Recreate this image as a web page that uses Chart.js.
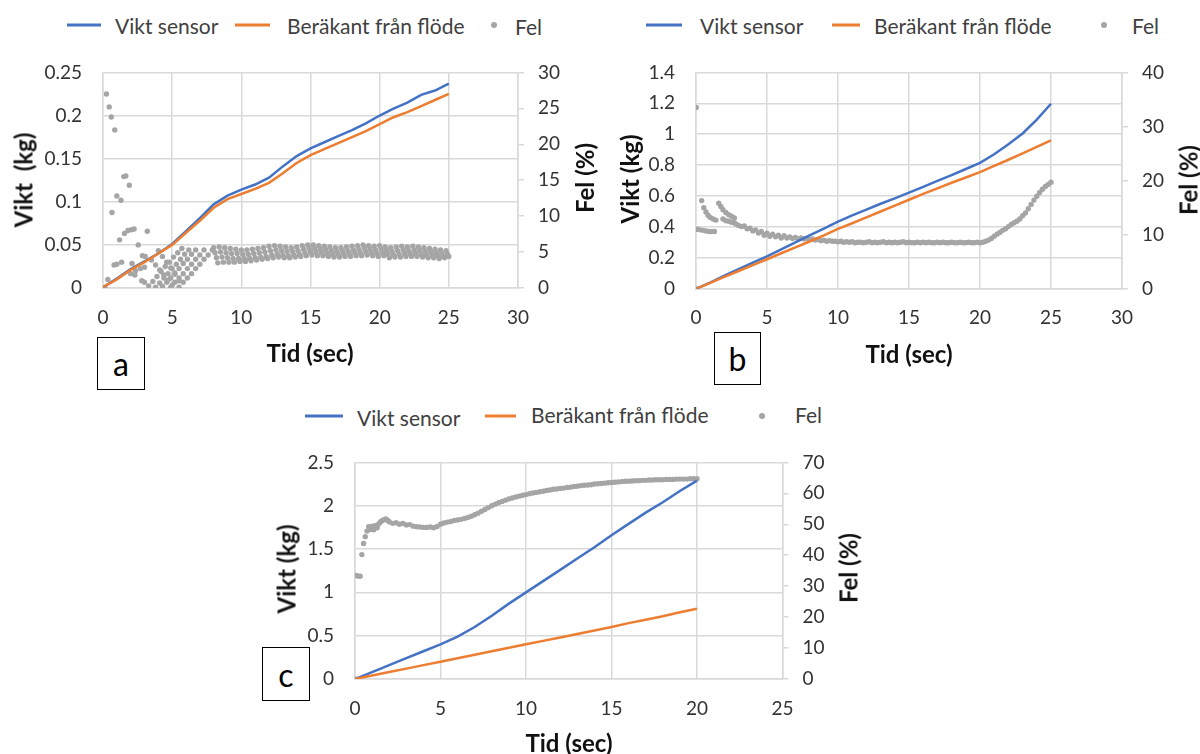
<!DOCTYPE html>
<html>
<head>
<meta charset="utf-8">
<script src="https://cdn.jsdelivr.net/npm/chart.js@4.4.1/dist/chart.umd.min.js"></script>
<style>
  body { margin: 0; background: #fff; }
  #page { position: relative; width: 1200px; height: 754px; overflow: hidden; font-family: Lato, "Open Sans", sans-serif; }
  canvas { position: absolute; }
  .lg { position: absolute; font-size: 21px; color: #404040; transform: translateY(-50%); white-space: nowrap; }
  .sw { position: absolute; height: 3px; transform: translateY(-50%); }
  .dot { position: absolute; width: 6px; height: 6px; border-radius: 50%; background: #a5a5a5; transform: translate(-50%, -50%); }
  .ttl { position: absolute; font-size: 24px; font-weight: bold; color: #111; white-space: pre; transform: translate(-50%, -50%); }
  .ttl.rot { transform: translate(-50%, -50%) rotate(-90deg); }
  .tag { position: absolute; border: 1.5px solid #000; box-sizing: border-box; font-size: 32px; color: #000;
         display: flex; align-items: center; justify-content: center; background: #fff; }
</style>
</head>
<body>
<div id="page">
  <canvas id="chartA" width="600" height="300" style="left:0;top:40px"></canvas>
  <canvas id="chartB" width="600" height="300" style="left:600px;top:40px"></canvas>
  <canvas id="chartC" width="600" height="324" style="left:250px;top:430px"></canvas>

  <!-- legend a -->
  <div class="sw" style="left:67px;top:25px;width:34px;background:#4472c4"></div>
  <div class="lg" style="left:115px;top:25px">Vikt sensor</div>
  <div class="sw" style="left:235px;top:25px;width:35px;background:#ed7d31"></div>
  <div class="lg" style="left:287px;top:25px">Beräkant från flöde</div>
  <div class="dot" style="left:494px;top:25px"></div>
  <div class="lg" style="left:515px;top:26px">Fel</div>

  <!-- legend b -->
  <div class="sw" style="left:646px;top:25px;width:36px;background:#4472c4"></div>
  <div class="lg" style="left:700px;top:25px">Vikt sensor</div>
  <div class="sw" style="left:832px;top:25px;width:28px;background:#ed7d31"></div>
  <div class="lg" style="left:874px;top:25px">Beräkant från flöde</div>
  <div class="dot" style="left:1104px;top:25px"></div>
  <div class="lg" style="left:1132px;top:25px">Fel</div>

  <!-- legend c -->
  <div class="sw" style="left:305px;top:416px;width:38px;background:#4472c4"></div>
  <div class="lg" style="left:357px;top:417px">Vikt sensor</div>
  <div class="sw" style="left:485px;top:416px;width:31px;background:#ed7d31"></div>
  <div class="lg" style="left:531px;top:414px">Beräkant från flöde</div>
  <div class="dot" style="left:762px;top:416px"></div>
  <div class="lg" style="left:795px;top:414px">Fel</div>

  <!-- axis titles -->
  <div class="ttl rot" style="left:23px;top:180px">Vikt  (kg)</div>
  <div class="ttl rot" style="left:584px;top:178px">Fel (%)</div>
  <div class="ttl" style="left:310px;top:352px">Tid (sec)</div>

  <div class="ttl rot" style="left:629px;top:179px">Vikt (kg)</div>
  <div class="ttl rot" style="left:1188px;top:180px">Fel (%)</div>
  <div class="ttl" style="left:909px;top:353px">Tid (sec)</div>

  <div class="ttl rot" style="left:286px;top:569px">Vikt (kg)</div>
  <div class="ttl rot" style="left:848px;top:568px">Fel (%)</div>
  <div class="ttl" style="left:569px;top:742px">Tid (sec)</div>

  <!-- panel tags -->
  <div class="tag" style="left:97px;top:337px;width:48px;height:53px">a</div>
  <div class="tag" style="left:714px;top:332px;width:47px;height:53px">b</div>
  <div class="tag" style="left:262px;top:647px;width:48px;height:54px">c</div>
</div>

<script>
/* ---------------- Data ---------------- */

// panel a
const tA = [0,1,2,3,4,5,6,7,8,9,10,11,12,13,14,15,16,17,18,19,20,21,22,23,24,25];
const viktA = [0.001,0.011,0.022,0.031,0.040,0.051,0.066,0.081,0.097,0.107,0.114,0.120,0.128,0.141,0.153,0.162,0.169,0.176,0.183,0.191,0.200,0.208,0.215,0.224,0.229,0.237];
const berA = [0.001,0.010,0.021,0.030,0.040,0.050,0.064,0.078,0.093,0.103,0.109,0.115,0.122,0.133,0.145,0.154,0.161,0.168,0.175,0.182,0.190,0.198,0.204,0.211,0.218,0.225];

const felA_earlyT = [0.05,0.15,0.25,0.35,0.45,0.6,0.65,0.8,0.85,1.0,1.0,1.2,1.3,1.35,1.5,1.55,1.65,1.8,1.9,2.0,2.05,2.1,2.25,2.3,2.35,2.55,2.7,2.8,2.85,3.0,3.0,3.05,3.2];
const felA_earlyV = [0,0,27.0,1.2,25.2,23.8,10.5,3.2,22.0,3.3,12.8,6.7,12.2,3.6,15.5,7.6,15.6,8.0,14.3,2.0,8.1,3.4,8.2,1.8,2.4,6.0,2.7,1.0,4.5,0.8,2.9,4.4,7.9];

const felA_hatchT = [3.3,3.6,3.9,4.2,4.5,4.8,5.1,5.4,5.7, 3.8,4.1,4.4,4.7,5.0,5.3,5.6,5.9,6.2,
  4.3,4.6,4.9,5.2,5.5,5.8,6.1,6.4,6.7, 4.9,5.2,5.5,5.8,6.1,6.4,6.7,7.0,7.3,
  5.5,5.8,6.1,6.4,6.7,7.0,7.3,7.6,7.9, 3.5,3.8,4.1,4.4,4.7,5.0, 4.0,4.3,4.6,4.9,5.2,5.5];
const felA_hatchV = [0.3,0.9,1.6,2.3,3.0,3.6,4.3,4.9,5.5, 0.1,0.7,1.4,2.0,2.7,3.3,4.0,4.7,5.3,
  0.2,0.8,1.4,2.1,2.7,3.4,4.0,4.7,5.3, 0.1,0.8,1.4,2.0,2.7,3.3,4.0,4.6,5.3,
  0.1,0.8,1.4,2.0,2.7,3.3,4.0,4.6,5.3, 3.9,3.2,2.5,1.8,1.1,0.4, 5.2,4.4,3.6,2.8,1.9,1.0];

// 8.0 s .. 25.0 s, one sample per 0.1 s
const felA_bandStart = 8.0, felA_bandStep = 0.1;
const felA_band = [
  5.6,4.9,4.2,3.5,5.7,5.0,4.3,3.6,5.6,4.9,
  4.2,3.6,5.5,4.8,4.1,3.6,5.4,4.8,4.1,3.7,
  5.3,4.7,4.1,3.7,5.3,4.7,4.1,3.8,5.4,4.8,
  4.2,3.9,5.5,4.9,4.3,4.0,5.6,5.0,4.4,4.1,
  5.8,5.2,4.6,4.2,5.9,5.3,4.7,4.3,5.8,5.2,
  4.6,4.2,5.7,5.1,4.5,4.2,5.6,5.1,4.6,4.3,
  5.7,5.2,4.7,4.4,5.9,5.4,4.9,4.5,6.0,5.5,
  5.0,4.6,6.0,5.5,5.0,4.5,5.9,5.4,4.9,4.5,
  5.8,5.3,4.8,4.4,5.7,5.2,4.7,4.3,5.6,5.1,
  4.7,4.3,5.6,5.2,4.7,4.4,5.7,5.2,4.8,4.4,
  5.8,5.3,4.9,4.5,5.9,5.4,4.9,4.5,6.0,5.5,
  5.0,4.6,5.9,5.4,4.9,4.5,5.8,5.3,4.8,4.4,
  5.9,5.4,4.9,4.5,5.7,5.2,4.7,4.2,5.6,5.1,
  4.6,4.3,5.7,5.2,4.7,4.3,5.8,5.3,4.8,4.4,
  5.7,5.2,4.8,4.4,5.8,5.3,4.8,4.4,5.7,5.2,
  4.7,4.3,5.6,5.1,4.6,4.2,5.5,5.0,4.6,4.2,
  5.4,4.9,4.5,4.1,5.3,4.8,4.4,4.2,5.2,4.7,
  4.4
];

const xTicksA = [0,5,10,15,20,25,30];
const yTicksA = [0,0.05,0.1,0.15,0.2,0.25];
const y2TicksA = [0,5,10,15,20,25,30];

// panel b
const tB = [0,1,2,3,4,5,6,7,8,9,10,11,12,13,14,15,16,17,18,19,20,21,22,23,24,25];
const viktB = [0,0.040,0.085,0.128,0.170,0.210,0.255,0.300,0.345,0.390,0.435,0.475,0.512,0.550,0.585,0.622,0.660,0.698,0.735,0.775,0.815,0.870,0.935,1.005,1.095,1.197];
const berB = [0,0.038,0.077,0.115,0.153,0.191,0.230,0.268,0.306,0.345,0.388,0.424,0.462,0.500,0.538,0.576,0.614,0.650,0.686,0.720,0.755,0.795,0.835,0.876,0.918,0.960];

const felB_earlyT = [0,0.02,0.1,0.3,0.5,0.7,0.9,1.1,1.3, 0.4,0.55,0.7,0.85,1.0,1.2,1.4,
  1.6,1.75,1.9,2.1,2.3,2.5,2.7, 1.9,2.1,2.3,2.5,2.7,2.8];
const felB_earlyV = [0,33.5,11.0,10.9,10.8,10.7,10.6,10.6,10.6, 16.3,15.0,14.2,13.6,13.2,12.9,12.7,
  15.8,15.2,14.6,14.1,13.7,13.4,13.1, 12.9,12.6,12.5,12.3,12.2,12.0];

// 3.0 s .. 25.0 s, one sample per 0.2 s
const felB_mainStart = 3.0, felB_mainStep = 0.2;
const felB_main = [
  11.7,11.5,11.6,11.1,11.2,10.7,10.9,10.3,10.6,9.9,
  10.3,9.7,10.1,9.6,9.9,9.4,9.8,9.4,9.6,9.3,
  9.5,9.2,9.4,9.2,9.3,9.1,9.2,9.0,9.1,8.9,
  9.0,8.8,8.9,8.8,8.8,8.7,8.8,8.6,8.7,8.6,
  8.7,8.5,8.6,8.6,8.5,8.6,8.7,8.5,8.6,8.5,
  8.6,8.7,8.5,8.6,8.5,8.6,8.5,8.6,8.7,8.5,
  8.6,8.5,8.5,8.6,8.5,8.6,8.5,8.6,8.5,8.5,
  8.6,8.5,8.6,8.5,8.5,8.6,8.5,8.5,8.6,8.5,
  8.5,8.6,8.5,8.5,8.6,8.5,8.6,8.8,9.0,9.3,
  9.7,10.1,10.4,10.8,11.1,11.5,11.9,12.2,12.5,12.9,
  13.5,14.0,14.8,15.6,16.4,17.1,17.8,18.4,18.9,19.3,
  19.7
];

const xTicksB = [0,5,10,15,20,25,30];
const yTicksB = [0,0.2,0.4,0.6,0.8,1,1.2,1.4];
const y2TicksB = [0,10,20,30,40];

// panel c
const tC = [0,1,2,3,4,5,6,7,8,9,10,11,12,13,14,15,16,17,18,19,20];
const viktC = [0,0.08,0.16,0.24,0.32,0.40,0.49,0.60,0.73,0.87,1.00,1.13,1.26,1.39,1.52,1.66,1.79,1.92,2.04,2.17,2.29];
const berC = [0,0.04,0.08,0.12,0.16,0.20,0.24,0.28,0.32,0.36,0.40,0.44,0.48,0.52,0.56,0.60,0.645,0.685,0.725,0.77,0.81];

const felC_earlyT = [0,0.05,0.15,0.3,0.4,0.5,0.6,0.7,0.8,0.9,1.0,1.1,1.2,1.3,1.4,1.5,1.6,1.7,1.8,1.9];
const felC_earlyV = [0,33.5,33.3,33.2,40.2,43.8,46.0,47.8,49.2,48.3,49.4,48.2,49.6,48.9,50.2,50.8,51.2,51.5,51.7,51.3];

// 2.0 s .. 20.0 s, one sample per 0.2 s
const felC_mainStart = 2.0, felC_mainStep = 0.2;
const felC_main = [
  50.8,50.3,50.5,50.0,50.3,49.8,49.9,49.4,49.2,49.1,
  49.0,49.0,49.1,48.9,49.3,50.0,50.4,50.7,50.9,51.2,
  51.4,51.6,51.9,52.2,52.6,53.1,53.6,54.2,54.8,55.4,
  56.0,56.5,57.0,57.4,57.8,58.2,58.5,58.8,59.1,59.4,
  59.6,59.9,60.1,60.3,60.5,60.7,60.9,61.1,61.3,61.4,
  61.6,61.7,61.9,62.0,62.2,62.3,62.5,62.6,62.7,62.8,
  63.0,63.1,63.2,63.3,63.4,63.5,63.6,63.7,63.8,63.9,
  63.9,64.0,64.1,64.1,64.2,64.2,64.3,64.3,64.4,64.4,
  64.4,64.5,64.5,64.5,64.6,64.6,64.6,64.6,64.7,64.7,
  64.7
];

const xTicksC = [0,5,10,15,20,25];
const yTicksC = [0,0.5,1,1.5,2,2.5];
const y2TicksC = [0,10,20,30,40,50,60,70];

/* ---------------- Helpers ---------------- */

const BLUE = "#4472c4";
const ORANGE = "#ed7d31";
const GRAY = "#a5a5a5";
const GRID = "#d9d9d9";
const INK = "#333333";

Chart.defaults.font.family = "Lato, 'Open Sans', sans-serif";

const xy = (t, v) => t.map((x, i) => ({ x, y: v[i] }));
const sampled = (t0, dt, v) => v.map((y, i) => ({ x: Math.round((t0 + i * dt) * 100) / 100, y }));

const tickFont = { size: 19 };

function setTicks(values) {
    return scale => {
        scale.ticks = values.map(value => ({ value }));
    };
}

/* ---------------- Create Chart ---------------- */

function drawPanel(id, panel) {

    new Chart(document.getElementById(id), {

        type: "line",

        data: {
            datasets: [
                {
                    label: "Vikt sensor",
                    data: panel.vikt,
                    yAxisID: "y",
                    borderColor: BLUE,
                    borderWidth: 2.5,
                    pointRadius: 0,
                    order: 1
                },
                {
                    label: "Beräkant från flöde",
                    data: panel.ber,
                    yAxisID: "y",
                    borderColor: ORANGE,
                    borderWidth: 2.5,
                    pointRadius: 0,
                    order: 0
                },
                {
                    label: "Fel",
                    data: panel.fel,
                    yAxisID: "y2",
                    showLine: false,
                    pointRadius: 2.7,
                    pointBorderWidth: 0,
                    pointBackgroundColor: GRAY,
                    order: 2
                }
            ]
        },

        options: {
            responsive: false,
            animation: false,
            events: [],
            layout: { padding: panel.pad },
            plugins: {
                legend: { display: false },
                tooltip: { enabled: false }
            },
            scales: {
                x: {
                    type: "linear",
                    min: 0,
                    max: panel.xTicks[panel.xTicks.length - 1],
                    afterBuildTicks: setTicks(panel.xTicks),
                    afterFit: scale => { scale.height = 40; },
                    grid: { color: GRID, lineWidth: 1.5, drawTicks: false },
                    border: { color: GRID, width: 1.5 },
                    ticks: { font: tickFont, color: INK, padding: 18, maxRotation: 0, autoSkip: false, callback: v => String(v) }
                },
                y: {
                    position: "left",
                    min: 0,
                    max: panel.yTicks[panel.yTicks.length - 1],
                    afterBuildTicks: setTicks(panel.yTicks),
                    afterFit: scale => { scale.width = 63; },
                    grid: { color: GRID, lineWidth: 1.5, drawTicks: false },
                    border: { color: GRID, width: 1.5 },
                    ticks: { font: tickFont, color: INK, padding: 21, callback: v => String(v) }
                },
                y2: {
                    position: "right",
                    min: 0,
                    max: panel.y2Ticks[panel.y2Ticks.length - 1],
                    afterBuildTicks: setTicks(panel.y2Ticks),
                    afterFit: scale => { scale.width = 60; },
                    grid: { drawOnChartArea: false, color: GRID, lineWidth: 1.5, tickLength: 6 },
                    border: { color: GRID, width: 1.5 },
                    ticks: { font: tickFont, color: INK, padding: 14, callback: v => String(v) }
                }
            }
        }
    });
}

drawPanel("chartA", {
    vikt: xy(tA, viktA),
    ber: xy(tA, berA),
    fel: [
        ...xy(felA_earlyT, felA_earlyV),
        ...xy(felA_hatchT, felA_hatchV),
        ...sampled(felA_bandStart, felA_bandStep, felA_band)
    ],
    xTicks: xTicksA,
    yTicks: yTicksA,
    y2Ticks: y2TicksA,
    pad: { left: 40, right: 22, top: 27.5, bottom: 12 }
});

drawPanel("chartB", {
    vikt: xy(tB, viktB),
    ber: xy(tB, berB),
    fel: [
        ...xy(felB_earlyT, felB_earlyV),
        ...sampled(felB_mainStart, felB_mainStep, felB_main)
    ],
    xTicks: xTicksB,
    yTicks: yTicksB,
    y2Ticks: y2TicksB,
    pad: { left: 33, right: 18, top: 28.3, bottom: 11.2 }
});

drawPanel("chartC", {
    vikt: xy(tC, viktC),
    ber: xy(tC, berC),
    fel: [
        ...xy(felC_earlyT, felC_earlyV),
        ...sampled(felC_mainStart, felC_mainStep, felC_main)
    ],
    xTicks: xTicksC,
    yTicks: yTicksC,
    y2Ticks: y2TicksC,
    pad: { left: 42, right: 7.5, top: 27, bottom: 35 }
});
</script>
</body>
</html>
